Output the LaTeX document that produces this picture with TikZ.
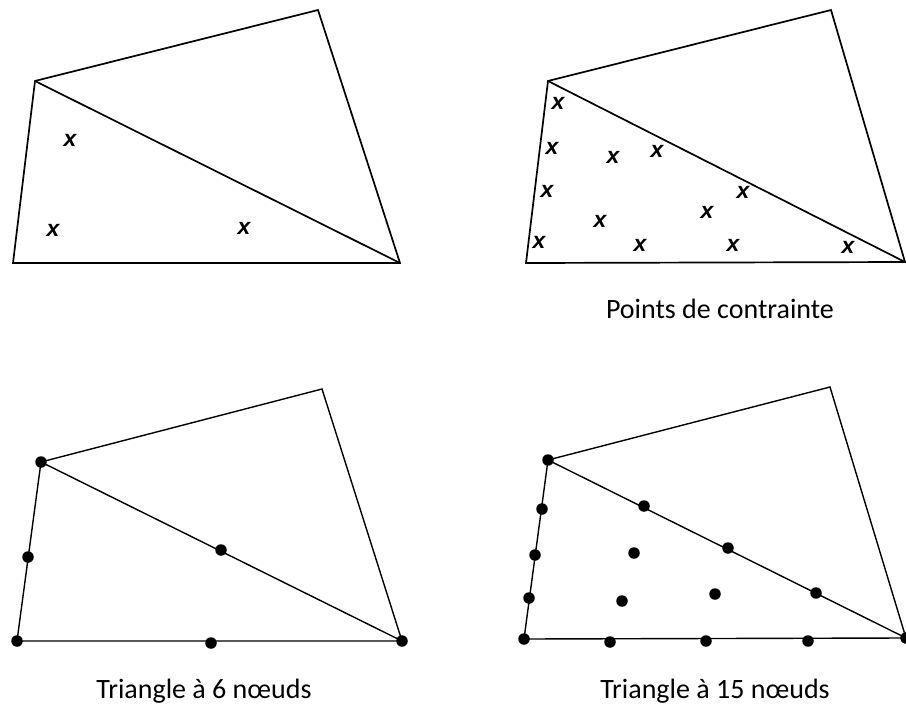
\documentclass[tikz,border=0pt]{standalone}
\usepackage{fontspec}
\setmainfont{Carlito}
\newfontfamily\crossfont{Liberation Sans}
\usetikzlibrary{positioning}

\begin{document}
\begin{tikzpicture}[x=1pt, y=-1pt,
      edge/.style    = {draw=black, line width=1.7pt, line join=miter},
      cross/.style   = {inner sep=0pt, font=\crossfont\bfseries\itshape\fontsize{23}{23}\selectfont},
      nodedot/.style = {circle, fill=black, inner sep=0pt, minimum size=11.5pt},
      caption/.style = {anchor=base, font=\fontsize{28}{32}\selectfont} ]
    \useasboundingbox (0,0) rectangle (906,707);

    % top left: three constraint points
    \coordinate (qa) at (35,81);  \coordinate (qb) at (318,10);
    \coordinate (qc) at (400,263); \coordinate (qd) at (13,263);
    \draw[edge] (qd) -- (qa) -- (qb) -- (qc) -- cycle;
    \draw[edge] (qa) -- (qc);
    \foreach \p [count=\i] in {(70,140), (53,230), (244,228)}
      \node[cross] (qx\i) at \p {x};

    % top right: constraint points
    \coordinate (ra) at (548,81);  \coordinate (rb) at (831,10);
    \coordinate (rc) at (905,262); \coordinate (rd) at (526,263);
    \draw[edge] (rd) -- (ra) -- (rb) -- (rc) -- cycle;
    \draw[edge] (ra) -- (rc);
    \foreach \p [count=\i] in {(558,103), (552,148), (613,157), (657,151),
                               (547,191), (743,192), (707,212), (600,221),
                               (539,242), (640,245), (733,245), (848,247)}
      \node[cross] (rx\i) at \p {x};
    \node[caption] (rcap) at (720,318) {Points de contrainte};

    % bottom left: 6 nodes
    \coordinate (sa) at (41,462);  \coordinate (sb) at (322,389);
    \coordinate (sc) at (402,641); \coordinate (sd) at (17,641);
    \draw[edge, line width=1.4pt] (sd) -- (sa) -- (sb) -- (sc) -- cycle;
    \draw[edge, line width=1.4pt] (sa) -- (sc);
    \foreach \p [count=\i] in {(41,462), (402,641), (17,641),
                               (28,557), (221,550), (211,643)}
      \node[nodedot] (sn\i) at \p {};
    \node[caption] (scap) at (204,698) {Triangle à 6 nœuds};

    % bottom right: 15 nodes
    \coordinate (ta) at (548,460); \coordinate (tb) at (830,387);
    \coordinate (tc) at (906,638); \coordinate (td) at (524,639);
    \draw[edge, line width=1.4pt] (td) -- (ta) -- (tb) -- (tc) -- cycle;
    \draw[edge, line width=1.4pt] (ta) -- (tc);
    \foreach \p [count=\i] in {(548,460), (524,639), (906,638),
                               (542,509), (535,555), (529,598),
                               (644,506), (728,548), (816,593),
                               (610,642), (706,641), (808,641),
                               (634,553), (622,601), (715,594)}
      \node[nodedot] (tn\i) at \p {};
    \node[caption] (tcap) at (715,698) {Triangle à 15 nœuds};
  \end{tikzpicture}
\end{document}
